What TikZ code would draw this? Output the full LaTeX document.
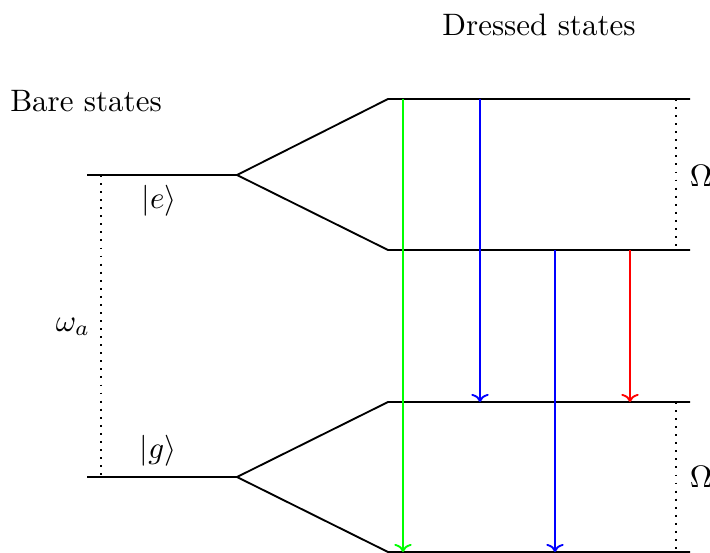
\documentclass[tikz,border=0pt]{standalone}
\usetikzlibrary{arrows.meta}
\begin{document}
\begin{tikzpicture}[x=0.3226pt,y=-0.3226pt,
  level/.style={semithick,black},
  gap/.style={semithick,dotted},
  trans/.style={semithick,-{To[width=5.6pt,length=2.6pt]}}]
\useasboundingbox (0,0) rectangle (710,552);
% bare levels
\coordinate (eL) at (87,175); \coordinate (eR) at (237,175);
\coordinate (gL) at (87,477); \coordinate (gR) at (237,477);
% dressed levels
\coordinate (e1L) at (388,99);  \coordinate (e1R) at (690,99);
\coordinate (e2L) at (388,250); \coordinate (e2R) at (690,250);
\coordinate (g1L) at (388,402); \coordinate (g1R) at (690,402);
\coordinate (g2L) at (388,552); \coordinate (g2R) at (690,552);
\draw[level] (eL) -- (eR) -- (e1L) -- (e1R);
\draw[level] (eR) -- (e2L) -- (e2R);
\draw[level] (gL) -- (gR) -- (g1L) -- (g1R);
\draw[level] (gR) -- (g2L) -- (g2R);
% labels
\node (bare) at (86,101) {Bare states};
\node (dressed) at (539,25) {Dressed states};
\node (ket e) at (159,201) {$|e\rangle$};
\node (ket g) at (158,451) {$|g\rangle$};
% bare gap
\coordinate (wa1) at (101,175); \coordinate (wa2) at (101,477);
\draw[gap] (wa1) -- (wa2);
\node[left,inner sep=2pt] (wa) at (97,327) {$\omega_a$};
% dressed gaps
\coordinate (o1) at (676,99); \coordinate (o2) at (676,250);
\coordinate (o3) at (676,402); \coordinate (o4) at (676,552);
\draw[gap] (o1) -- (o2);
\draw[gap] (o3) -- (o4);
\node (om1) at (701,176) {$\Omega$};
\node (om2) at (701,477) {$\Omega$};
% transitions
\coordinate (a1) at (403,99);  \coordinate (b1) at (403,552);
\coordinate (a2) at (480,99);  \coordinate (b2) at (480,402);
\coordinate (a3) at (555,250); \coordinate (b3) at (555,552);
\coordinate (a4) at (630,250); \coordinate (b4) at (630,402);
\draw[trans,green] (a1) -- (b1);
\draw[trans,blue] (a2) -- (b2);
\draw[trans,blue] (a3) -- (b3);
\draw[trans,red] (a4) -- (b4);
\end{tikzpicture}
\end{document}
